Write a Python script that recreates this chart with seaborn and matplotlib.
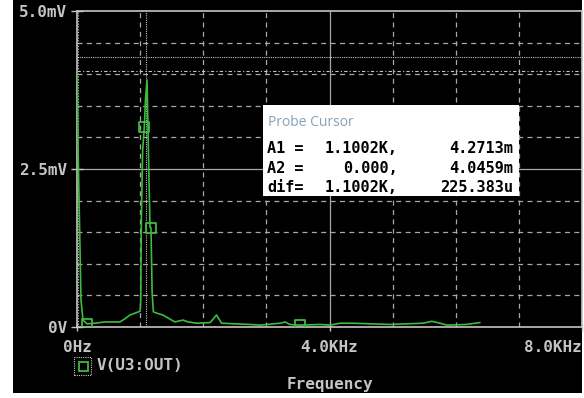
import matplotlib
matplotlib.use("Agg")
import matplotlib.pyplot as plt
import seaborn as sns
import pandas as pd
from matplotlib.patches import Rectangle

# ---- data (kHz, mV) ----
freq_khz = [0.0, 0.008, 0.016, 0.032, 0.048, 0.063, 0.095, 0.158, 0.285, 0.44,
            0.68, 0.76, 0.84, 1.0, 1.01, 1.02, 1.04, 1.066, 1.085, 1.109,
            1.125, 1.14, 1.156, 1.172, 1.19, 1.21, 1.26, 1.36, 1.55, 1.68,
            1.76, 1.90, 2.11, 2.21, 2.29, 2.74, 2.90, 3.22, 3.30, 3.37,
            3.53, 3.85, 4.01, 4.17, 4.37, 4.96, 5.48, 5.62, 5.75, 5.86,
            6.17, 6.38]
volt_mv = [4.05, 3.64, 2.85, 2.06, 1.22, 0.43, 0.11, 0.05, 0.06, 0.08,
           0.08, 0.13, 0.19, 0.25, 0.43, 1.74, 2.80, 3.16, 3.59, 3.91,
           3.12, 2.37, 1.58, 1.57, 0.54, 0.24, 0.22, 0.19, 0.08, 0.11,
           0.08, 0.06, 0.07, 0.19, 0.06, 0.04, 0.03, 0.06, 0.08, 0.04,
           0.03, 0.04, 0.03, 0.06, 0.06, 0.04, 0.06, 0.09, 0.06, 0.03,
           0.04, 0.07]
marker_khz = [0.158, 1.066, 1.172, 3.53]
marker_mv = [0.05, 3.16, 1.57, 0.03]

x_ticks = [0, 4, 8]
x_tick_labels = ["0Hz", "4.0KHz", "8.0KHz"]
y_ticks = [0, 2.5, 5]
y_tick_labels = ["0V", "2.5mV", "5.0mV"]

cursor_a1 = (1.1002, 4.2713)
cursor_a2 = (0.0, 4.0459)
probe_rows = [("A1 =", "1.1002K,", "4.2713m"),
              ("A2 =", "0.000,", "4.0459m"),
              ("dif=", "1.1002K,", "225.383u")]
series_name = "V(U3:OUT)"
x_title = "Frequency"

GREEN = "#3dbb3d"
GRAY = "#c4c4c4"
GRID = "#a8a8a8"
MONO = "DejaVu Sans Mono"

fig = plt.figure(figsize=(5.84, 3.98), dpi=100, facecolor="white")
# black screen background
fig.patches.append(Rectangle((13 / 584, 5 / 398), 569 / 584, 393 / 398,
                             transform=fig.transFigure, facecolor="black",
                             edgecolor="none", zorder=-10))
ax = fig.add_axes([77 / 584, 71 / 398, 505 / 584, 316 / 398])
ax.set_facecolor("black")
ax.set_xlim(0, 8)
ax.set_ylim(0, 5)

# grid
for k in range(1, 8):
    if k == 4:
        ax.axvline(k, color=GRID, lw=0.9, zorder=1)
    else:
        ax.axvline(k, color=GRID, lw=0.9, dashes=(4, 3.5), zorder=1)
for j in range(1, 10):
    yv = j * 0.5
    if j == 5:
        ax.axhline(yv, color=GRID, lw=0.9, zorder=1)
    else:
        ax.axhline(yv, color=GRID, lw=0.9, dashes=(4, 3.5), zorder=1)

# cursors
ax.axhline(cursor_a1[1], color=GRAY, lw=0.8, linestyle=(0, (1, 1)), zorder=2)
ax.axhline(cursor_a2[1], color=GRAY, lw=0.8, linestyle=(0, (3, 2, 1, 2)), zorder=2)
ax.axvline(cursor_a1[0], color=GRAY, lw=0.8, linestyle=(0, (1, 1)), zorder=2)
ax.axvline(0.02, color=GRAY, lw=0.8, linestyle=(0, (1, 1.5)), zorder=2)

df = pd.DataFrame({"f": freq_khz, "v": volt_mv})
sns.lineplot(data=df, x="f", y="v", ax=ax, color=GREEN, lw=1.2,
             sort=False, estimator=None, zorder=3)
dm = pd.DataFrame({"f": marker_khz, "v": marker_mv})
sns.scatterplot(data=dm, x="f", y="v", ax=ax, marker="s", s=55,
                facecolor="none", edgecolor=GREEN, linewidth=1.3, zorder=4)

for s in ax.spines.values():
    s.set_color(GRAY)
    s.set_linewidth(1.2)

ax.set_xticks(x_ticks)
ax.set_xticklabels(x_tick_labels)
ax.set_yticks(y_ticks)
ax.set_yticklabels(y_tick_labels)
ax.tick_params(axis="x", colors=GRAY, direction="inout", length=6, width=1,
               pad=6, labelsize=11.5)
ax.tick_params(axis="y", colors=GRAY, direction="inout", length=8, width=1,
               pad=3, labelsize=11.5)
for lab in ax.get_xticklabels() + ax.get_yticklabels():
    lab.set_fontfamily(MONO)
    lab.set_fontweight("bold")
ax.get_xticklabels()[-1].set_horizontalalignment("right")
ax.set_xlabel("")
ax.set_ylabel("")
fig.text(330 / 584, 1 - 384 / 398, x_title, color=GRAY, fontsize=11.5,
         fontfamily=MONO, fontweight="bold", va="center", ha="center")

# legend
fig.patches.append(Rectangle((74 / 584, 1 - 375 / 398), 17 / 584, 18 / 398,
                             transform=fig.transFigure, facecolor="none",
                             edgecolor=GRAY, lw=0.8, linestyle=(0, (1, 1))))
fig.patches.append(Rectangle((78.5 / 584, 1 - 370.5 / 398), 9 / 584, 9 / 398,
                             transform=fig.transFigure, facecolor="none",
                             edgecolor=GREEN, lw=1.3))
fig.text(97 / 584, 1 - 366 / 398, series_name, color=GRAY, fontsize=11.5,
         fontfamily=MONO, fontweight="bold", va="center", ha="left")

# probe cursor box
fig.patches.append(Rectangle((263 / 584, 1 - 196 / 398), 256 / 584, 91 / 398,
                             transform=fig.transFigure, facecolor="white",
                             edgecolor="none", zorder=5))
fig.text(268 / 584, 1 - 122 / 398, "Probe Cursor", color="#8aa0b4",
         fontsize=10, fontfamily="Open Sans", va="center", ha="left", zorder=6)
row_y = [148, 168, 187]
for (a, b, c), yy in zip(probe_rows, row_y):
    yf = 1 - yy / 398
    fig.text(267 / 584, yf, a, color="black", fontsize=11, fontfamily=MONO,
             fontweight="bold", va="center", ha="left", zorder=6)
    fig.text(398 / 584, yf, b, color="black", fontsize=11, fontfamily=MONO,
             fontweight="bold", va="center", ha="right", zorder=6)
    fig.text(513 / 584, yf, c, color="black", fontsize=11, fontfamily=MONO,
             fontweight="bold", va="center", ha="right", zorder=6)

fig.savefig("out.png", dpi=100, facecolor="white")
